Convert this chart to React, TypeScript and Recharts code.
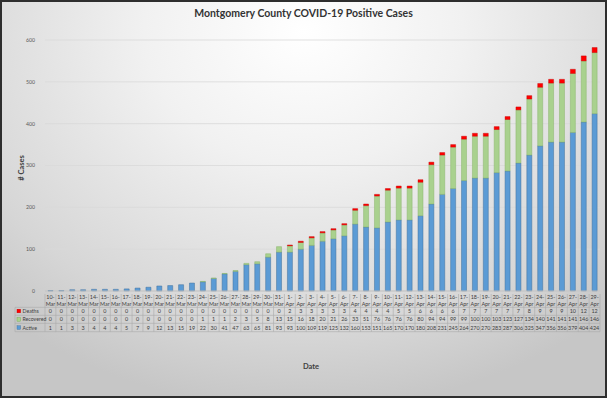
import React from "react";
import { BarChart, Bar, XAxis, YAxis, CartesianGrid } from "recharts";

const dates = [
  "10-Mar","11-Mar","12-Mar","13-Mar","14-Mar","15-Mar","16-Mar","17-Mar","18-Mar","19-Mar","20-Mar",
  "21-Mar","22-Mar","23-Mar","24-Mar","25-Mar","26-Mar","27-Mar","28-Mar","29-Mar","30-Mar","31-Mar",
  "1-Apr","2-Apr","3-Apr","4-Apr","5-Apr","6-Apr","7-Apr","8-Apr","9-Apr","10-Apr","11-Apr","12-Apr",
  "13-Apr","14-Apr","15-Apr","16-Apr","17-Apr","18-Apr","19-Apr","20-Apr","21-Apr","22-Apr","23-Apr",
  "24-Apr","25-Apr","26-Apr","27-Apr","28-Apr","29-Apr",
];

const deaths = [
  0,0,0,0,0,0,0,0,0,0,0,0,0,0,0,0,0,0,0,0,0,0,
  2,3,3,3,3,3,4,4,4,4,5,5,6,6,6,6,7,7,7,7,7,7,8,9,9,9,10,12,12,
];

const recovered = [
  0,0,0,0,0,0,0,0,0,0,0,0,0,0,1,1,1,2,3,5,8,13,
  15,16,18,20,21,26,33,51,76,76,76,76,80,94,94,99,99,100,100,103,123,127,134,140,141,141,141,146,146,
];

const active = [
  1,1,3,3,4,4,4,5,7,9,12,13,15,19,22,30,41,47,63,65,81,93,
  93,100,109,119,125,132,160,153,151,165,170,170,180,208,231,245,264,270,270,283,287,306,325,347,356,356,379,404,424,
];

const yTicks = [0, 100, 200, 300, 400, 500, 600];

const seriesLabels = ["Deaths", "Recovered", "Active"];
const seriesColors = ["#FF0000", "#A9D18E", "#5B9BD5"];

const data = dates.map((d, i) => ({
  date: d,
  active: active[i],
  recovered: recovered[i],
  deaths: deaths[i],
}));

const W = 607;
const H = 398;
const PLOT_LEFT = 45;
const PLOT_RIGHT = 600;
const CELL = (PLOT_RIGHT - PLOT_LEFT) / dates.length;
const FONT = "Lato, 'Open Sans', sans-serif";
const GRID = "#a9a9a9";
const TXT = "#404040";

const ROW_LINES = [16.3, 24.3, 32.3, 40.7];
const ROW_TEXT = [20, 28.4, 36.6];

function TableTick(props: any) {
  const { x, y, payload } = props;
  const i = dates.indexOf(payload.value);
  const [d, m] = String(payload.value).split("-");
  const left = x - CELL / 2;
  const right = x + CELL / 2;
  const vals = [deaths[i], recovered[i], active[i]];
  return (
    <g>
      <line x1={left} x2={left} y1={y + 3} y2={y + 40.7} stroke={GRID} strokeWidth={0.6} />
      {i === dates.length - 1 && (
        <line x1={right} x2={right} y1={y + 3} y2={y + 40.7} stroke={GRID} strokeWidth={0.6} />
      )}
      {ROW_LINES.map((ly, k) => (
        <line key={k} x1={left} x2={right} y1={y + ly} y2={y + ly} stroke={GRID} strokeWidth={0.6} />
      ))}
      <text x={x} y={y + 8} textAnchor="middle" fontSize={5.4} fill={TXT} fontFamily={FONT}>
        {d + "-"}
      </text>
      <text x={x} y={y + 14.5} textAnchor="middle" fontSize={5.4} fill={TXT} fontFamily={FONT}>
        {m}
      </text>
      {vals.map((v, k) => (
        <text
          key={k}
          x={x}
          y={y + ROW_TEXT[k] + 2}
          textAnchor="middle"
          fontSize={5.4}
          fill={TXT}
          fontFamily={FONT}
        >
          {v}
        </text>
      ))}
      {i === 0 && (
        <g>
          <line x1={15} x2={15} y1={y + 16.3} y2={y + 40.7} stroke={GRID} strokeWidth={0.6} />
          {ROW_LINES.map((ly, k) => (
            <line key={k} x1={15} x2={left} y1={y + ly} y2={y + ly} stroke={GRID} strokeWidth={0.6} />
          ))}
          {seriesLabels.map((lab, k) => (
            <g key={lab}>
              <rect
                x={17}
                y={y + ROW_TEXT[k] - 1.8}
                width={3.6}
                height={3.6}
                fill={seriesColors[k]}
                stroke={k === 1 ? "#70AD47" : k === 2 ? "#41719C" : "#C00000"}
                strokeWidth={0.4}
              />
              <text x={22.5} y={y + ROW_TEXT[k] + 2} fontSize={5.2} fill={TXT} fontFamily={FONT}>
                {lab}
              </text>
            </g>
          ))}
        </g>
      )}
    </g>
  );
}

export default function App() {
  return (
    <div
      style={{
        position: "absolute",
        left: 0,
        top: 0,
        width: W,
        height: H,
        background: "radial-gradient(ellipse 75% 95% at 50% 8%, #ffffff 0%, #f1f1f1 35%, #d6d6d6 80%, #c6c6c6 100%)",
        boxShadow: "inset 0 0 0 2px #2e2e2e",
        overflow: "hidden",
        fontFamily: FONT,
      }}
    >
      <div
        style={{
          position: "absolute",
          left: 0,
          width: W,
          top: 6,
          textAlign: "center",
          fontSize: 10.5,
          fontWeight: 700,
          color: "#333",
          lineHeight: "14px",
        }}
      >
        Montgomery County COVID-19 Positive Cases
      </div>
      <div
        style={{
          position: "absolute",
          left: 21,
          top: 168,
          transform: "translate(-50%, -50%) rotate(-90deg)",
          fontSize: 7.5,
          fontWeight: 700,
          color: "#404040",
          whiteSpace: "nowrap",
          lineHeight: "9px",
        }}
      >
        # Cases
      </div>
      <div
        style={{
          position: "absolute",
          left: 311,
          top: 366,
          transform: "translate(-50%, -50%)",
          fontSize: 7.5,
          fontWeight: 700,
          color: "#404040",
          whiteSpace: "nowrap",
          lineHeight: "9px",
        }}
      >
        Date
      </div>
      <div style={{ position: "absolute", left: 0, top: 0 }}>
        <BarChart
          width={W}
          height={H}
          data={data}
          margin={{ top: 40, right: W - PLOT_RIGHT, left: 0, bottom: 62 }}
          barSize={5}
          barGap={0}
        >
          <CartesianGrid vertical={false} stroke="#d9d9d9" strokeWidth={0.8} />
          <YAxis
            width={PLOT_LEFT}
            domain={[0, 600]}
            ticks={yTicks}
            axisLine={false}
            tickLine={false}
            tickMargin={4}
            tick={{ fontSize: 5.2, fill: "#595959", fontFamily: FONT }}
          />
          <XAxis
            dataKey="date"
            height={45}
            interval={0}
            axisLine={{ stroke: "#bfbfbf" }}
            tickLine={false}
            tickSize={0}
            tickMargin={0}
            tick={<TableTick />}
          />
          <Bar dataKey="active" stackId="a" fill="#5B9BD5" stroke="#41719C" strokeWidth={0.5} isAnimationActive={false} />
          <Bar dataKey="recovered" stackId="a" fill="#A9D18E" stroke="#8AB46C" strokeWidth={0.5} isAnimationActive={false} />
          <Bar dataKey="deaths" stackId="a" fill="#FF0000" stroke="#C00000" strokeWidth={0.4} isAnimationActive={false} />
        </BarChart>
      </div>
    </div>
  );
}
